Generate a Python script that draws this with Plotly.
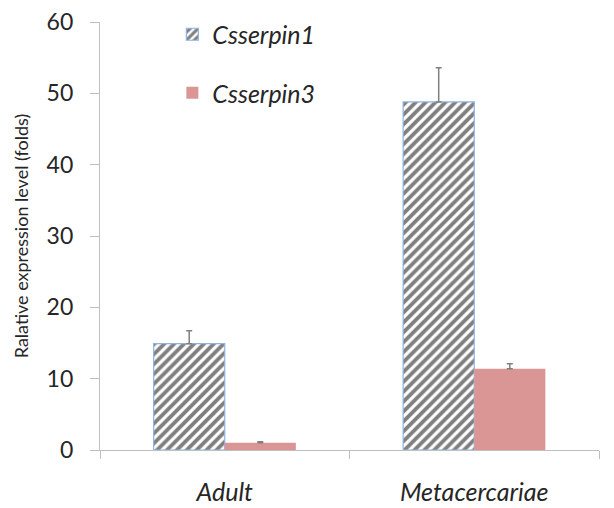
import plotly.graph_objects as go

categories = ["Adult", "Metacercariae"]
serpin1 = [14.9, 48.8]
serpin1_err = [1.8, 4.8]
serpin3 = [1.0, 11.4]
serpin3_err = [0.15, 0.7]
y_ticks = [0, 10, 20, 30, 40, 50, 60]

fig = go.Figure()
fig.add_trace(go.Bar(
    x=categories, y=serpin1, name="Csserpin1", legendgroup="a",
    marker=dict(color="white",
                pattern=dict(shape="/", fgcolor="#000000", bgcolor="white", size=7, solidity=0.55),
                line=dict(color="#8DB3E2", width=1.2)),
    error_y=dict(type="data", array=serpin1_err, arrayminus=[0, 0], symmetric=False,
                 color="#7F7F7F", thickness=1.5, width=3),
))
fig.add_trace(go.Bar(
    x=categories, y=serpin3, name="Csserpin3", legendgroup="b",
    marker=dict(color="#D99694", line=dict(width=0)),
    error_y=dict(type="data", array=serpin3_err, arrayminus=[0, 0], symmetric=False,
                 color="#7F7F7F", thickness=1.5, width=3),
))

fig.update_layout(
    width=606, height=500,
    margin=dict(l=92, r=15, t=14, b=58, autoexpand=False),
    paper_bgcolor="white", plot_bgcolor="white",
    font=dict(family="Lato, Open Sans, sans-serif", color="#262626"),
    barmode="group", bargap=0.43, bargroupgap=0,
    showlegend=True,
    legend=dict(x=0.145, y=0.993, yref="container", xanchor="left", yanchor="top",
                font=dict(size=25, style="italic"),
                tracegroupgap=23, bgcolor="rgba(0,0,0,0)", itemwidth=30),
    xaxis=dict(showline=True, linecolor="#BFBFBF", linewidth=1.2,
               ticks="outside", tickson="boundaries", ticklen=8, tickcolor="#BFBFBF",
               tickfont=dict(size=25, style="italic"), showgrid=False,
               ticklabelstandoff=20, automargin=False, ticklabeloverflow="allow"),
    yaxis=dict(range=[0, 60], tickvals=y_ticks, showline=True, linecolor="#BFBFBF",
               linewidth=1.2, ticks="outside", ticklen=9, tickcolor="#BFBFBF",
               tickfont=dict(size=23), showgrid=False, zeroline=False,
               ticklabelstandoff=12, automargin=False, ticklabeloverflow="allow",
               title=dict(text="Ralative expression level (folds)", font=dict(size=18), standoff=13)),
)

fig.write_html("out.html")
